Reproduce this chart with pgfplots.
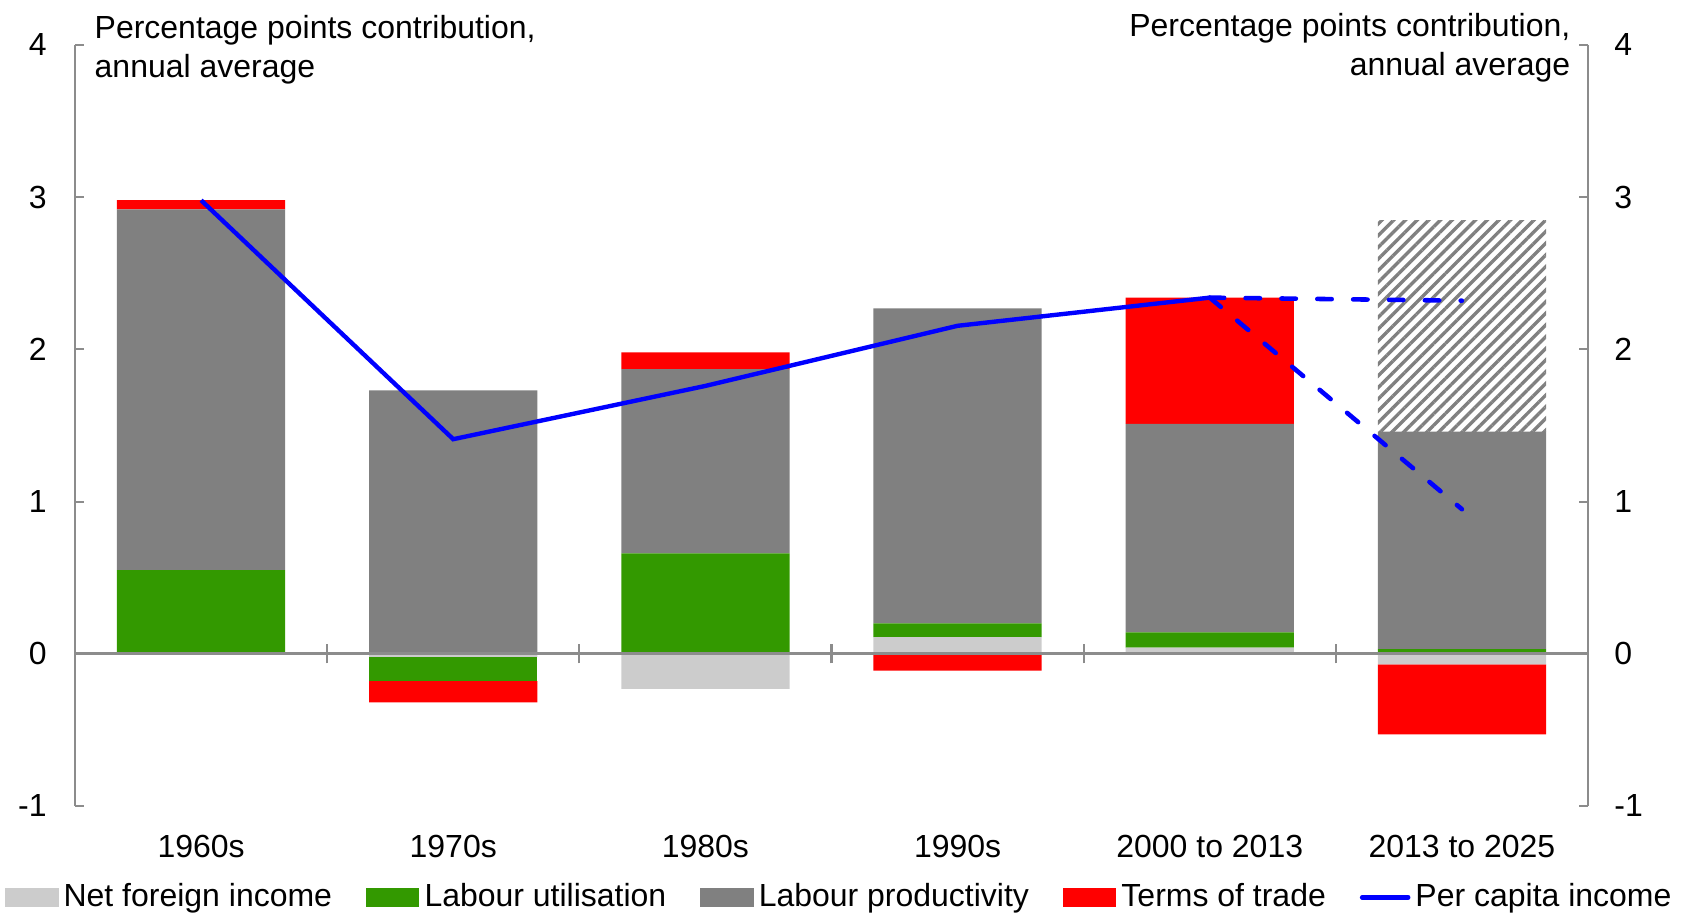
\documentclass[border=0pt]{standalone}
\usepackage{fontspec}
\setmainfont{Liberation Sans}
\usepackage{pgfplots}
\pgfplotsset{compat=1.18}
\usetikzlibrary{patterns.meta}
\definecolor{nfi}{HTML}{CCCCCC}
\definecolor{lu}{HTML}{339900}
\definecolor{lp}{HTML}{808080}
\definecolor{tot}{HTML}{FF0000}
\definecolor{axgray}{HTML}{8C8C8C}
\newcommand\chartfont{\fontsize{9.1}{11}\selectfont}
\pgfplotsset{
  base/.style={
    scale only axis, width=15.13cm, height=7.61cm,
    xmin=-0.5, xmax=5.5, ymin=-1, ymax=4,
    ybar stacked, bar width=0.667,
    tick label style={font=\chartfont},
    ytick={-1,0,1,2,3,4}, yticklabels={-1,0,1,2,3,4},
    tick align=inside, major tick length=0.09cm,
    every tick/.style={axgray, line width=0.6pt},
  }
}
\begin{document}
\begin{tikzpicture}
% positive contributions
\begin{axis}[base,
  clip=false,
  axis x line*=bottom, axis y line*=left,
  x axis line style={draw=none},
  xtick={0,1,2,3,4,5},
  xticklabels={1960s,1970s,1980s,1990s,2000 to 2013,2013 to 2025},
  major x tick style={draw=none},
  xticklabel style={yshift=-0.17cm},
  y axis line style={axgray, line width=0.6pt},
  yticklabel style={xshift=-0.16cm},
]
\addplot[fill=nfi, draw=none] coordinates {(0,0) (1,0) (2,0) (3,0.11) (4,0.04) (5,0)};
\addplot[fill=lu, draw=none] coordinates {(0,0.55) (1,0) (2,0.66) (3,0.09) (4,0.10) (5,0.03)};
\addplot[fill=lp, draw=none] coordinates {(0,2.37) (1,1.73) (2,1.21) (3,2.07) (4,1.37) (5,1.43)};
\addplot[fill=tot, draw=none] coordinates {(0,0.06) (1,0) (2,0.11) (3,0) (4,0.83) (5,0)};
\addplot[draw=none, pattern={Lines[angle=45,distance=2.35pt,line width=0.95pt]}, pattern color=lp]
  coordinates {(0,0) (1,0) (2,0) (3,0) (4,0) (5,1.39)};
\node[anchor=north west, align=left, font=\chartfont, inner sep=0pt]
  at (rel axis cs:0,1) [xshift=0.19cm, yshift=0.30cm] {Percentage points contribution,\\annual average};
\node[anchor=north east, align=right, font=\chartfont, inner sep=0pt]
  at (rel axis cs:1,1) [xshift=-0.17cm, yshift=0.32cm] {Percentage points contribution,\\annual average};
\end{axis}
% negative contributions, zero line, right axis, per capita income
\begin{axis}[base,
  axis on top,
  axis x line*=middle, axis y line*=right,
  hide obscured x ticks=false, hide obscured y ticks=false,
  x axis line style={axgray, line width=0.8pt},
  xtick={0.5,1.5,2.5,3.5,4.5}, xticklabels={},
  xtick style={axgray, line width=0.6pt, /pgfplots/major tick length=0.19cm, /pgfplots/tick align=center},
  y axis line style={axgray, line width=0.6pt},
  yticklabel style={xshift=0.14cm, anchor=west},
  legend style={at={(0.5066,-0.120)}, anchor=center, draw=none, fill=none,
    font=\chartfont, legend columns=-1,
    nodes={inner xsep=1.8pt},
    /tikz/every odd column/.append style={column sep=-0.013cm},
    /tikz/every even column/.append style={column sep=0.277cm}},
  legend cell align=left,
]
\addlegendimage{legend image code/.code={\fill[nfi] (0cm,-0.085cm) rectangle (0.52cm,0.085cm);}}
\addlegendentry{Net foreign income}
\addlegendimage{legend image code/.code={\fill[lu] (0cm,-0.085cm) rectangle (0.52cm,0.085cm);}}
\addlegendentry{Labour utilisation}
\addlegendimage{legend image code/.code={\fill[lp] (0cm,-0.085cm) rectangle (0.52cm,0.085cm);}}
\addlegendentry{Labour productivity}
\addlegendimage{legend image code/.code={\fill[tot] (0cm,-0.085cm) rectangle (0.52cm,0.085cm);}}
\addlegendentry{Terms of trade}
\addlegendimage{legend image code/.code={\draw[blue, line width=1.3pt, line cap=round] (0.03cm,0cm) -- (0.49cm,0cm);}}
\addlegendentry{Per capita income}
\addplot[fill=nfi, draw=none, forget plot] coordinates {(0,0) (1,-0.02) (2,-0.23) (3,0) (4,0) (5,-0.07)};
\addplot[fill=lu, draw=none, forget plot] coordinates {(0,0) (1,-0.16) (2,0) (3,0) (4,0) (5,0)};
\addplot[fill=tot, draw=none, forget plot] coordinates {(0,0) (1,-0.14) (2,0) (3,-0.11) (4,0) (5,-0.46)};
\addplot[sharp plot, stack plots=false, blue, line width=1.25pt, forget plot]
  coordinates {(0,2.98) (1,1.41) (2,1.76) (3,2.155) (4,2.34)};
\addplot[sharp plot, stack plots=false, blue, line width=1.3pt, line cap=round, dash pattern=on 4.1pt off 6.1pt, forget plot]
  coordinates {(4,2.34) (5,2.32)};
\addplot[sharp plot, stack plots=false, blue, line width=1.3pt, line cap=round, dash pattern=on 4.1pt off 6.1pt, forget plot]
  coordinates {(4,2.34) (5,0.95)};
\end{axis}
\pgfresetboundingbox
\path[use as bounding box] (-0.75cm,-1.07cm) rectangle (16.13cm,8.06cm);
\end{tikzpicture}
\end{document}
